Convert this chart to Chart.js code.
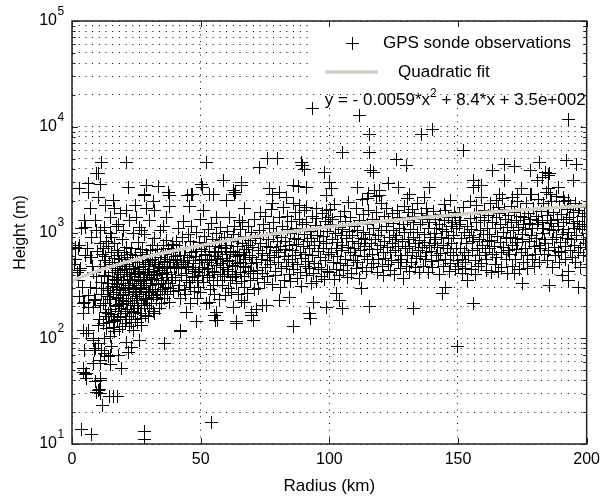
<!DOCTYPE html>
<html>
<head>
<meta charset="utf-8">
<script src="https://cdn.jsdelivr.net/npm/chart.js@4.4.1/dist/chart.umd.min.js"></script>
<style>
  html, body { margin: 0; padding: 0; background: #fff; }
  #chart { display: block; }
</style>
</head>
<body>
<canvas id="chart" width="606" height="499"></canvas>
<script>
// axis ticks
const radiusTicks = [0, 50, 100, 150, 200];
const heightDecades = [10, 100, 1000, 10000, 100000];
const heightExponents = ['1', '2', '3', '4', '5'];
const heightGrid = [10, 20, 30, 40, 50, 60, 70, 80, 90,
  100, 200, 300, 400, 500, 600, 700, 800, 900,
  1000, 2000, 3000, 4000, 5000, 6000, 7000, 8000, 9000,
  10000, 20000, 30000, 40000, 50000, 60000, 70000, 80000, 90000, 100000];

// quadratic fit, every 10 km
const fitRadius = [0, 10, 20, 30, 40, 50, 60, 70, 80, 90, 100, 110, 120, 130, 140, 150, 160, 170, 180, 190, 200];
const fitHeight = [350, 433, 516, 597, 677, 755, 833, 909, 984, 1058, 1131, 1203, 1273, 1342, 1410, 1477, 1543, 1607, 1671, 1733, 1794];

// GPS sonde observations [radius km, height m]
const sondeObs = [
  // 0-20 km, sparse and low
  [3.8,13.6],[7.6,12.2],[4.3,47],[5.6,42],[9.6,31],[9.0,39],[5.0,77],[6.3,119],[4.3,172],[6.3,197],[9.0,228],[6.3,254],[3.1,438],[7.0,585],[9.6,295],
  [3.1,2600],[6.3,2900],[6.4,2400],[9.6,3600],[7.0,1680],[5.0,1300],[9.0,1310],[3.7,1090],[9.6,1040],[2.5,710],
  [11.5,4600],[10.2,3575],[5.2,1120],[10.9,1045],[3.0,753],[1.2,727],[7.6,904],[10.9,785],[5.1,607],[7.7,580],[3.2,454],[8.3,422],[2.5,352],[7.1,305],[8.9,230],
  [5.0,220],[4.4,212],[8.3,197],[10.9,205],[4.4,119],[5.7,111],[8.3,96],[10.2,89],[11.5,77],[8.9,76],[10.9,62],[8.3,58],[4.4,52],[5.8,46],[10.9,40],[10.2,32],
  [10.9,30],[16.0,28],[19.3,52],[14.8,103],[13.5,123],[16.7,147],[15.4,83],[12.2,137],[12.8,72],[14.1,67],[14.8,56],[18.0,69],
  [1.5,560],[2.0,420],[8.0,480],[9.5,380],[4.0,300],[2.8,250],[9.8,660],[6.0,700],[1.0,500],
  [10.2,132],[8.3,100],[12.8,100],[21.2,92],[23.0,82],[21.8,74],[26.4,96],[36.0,89],[42.0,115],[9.0,80],[15.0,69],[4.6,52],[10.9,58],[10.9,42],[5.1,45],
  [11.8,23],[14.6,28],[17.8,28],[10.5,33],[54.2,16],[28.1,13],[28.3,11],
  // 10-40 km core
  [11.2,480],[11.6,262],[10.8,152],[11.4,338],[11.9,618],
  [12.3,705],[12.7,392],[12.1,212],[12.9,176],[12.5,545],[12.2,298],
  [13.4,822],[13.1,452],[13.7,248],[13.3,161],[13.9,332],[13.2,598],
  [14.5,518],[14.1,282],[14.8,188],[14.3,384],[14.6,142],[14.2,732],
  [15.3,642],[15.7,418],[15.1,232],[15.9,308],[15.5,168],[15.2,905],[15.8,498],
  [16.4,362],[16.1,268],[16.8,201],[16.5,562],[16.2,126],[16.9,458],[16.6,782],
  [17.3,302],[17.7,438],[17.1,242],[17.9,181],[17.5,678],[17.2,348],[17.8,152],
  [18.6,522],[18.2,378],[18.9,262],[18.4,208],[18.1,612],[18.7,158],[18.3,292],[18.8,418],
  [19.5,472],[19.1,332],[19.8,228],[19.3,191],[19.6,852],[19.2,558],[19.9,282],
  [20.4,402],[20.8,298],[20.1,252],[20.6,171],[20.3,652],[20.9,502],[20.2,352],[20.7,138],
  [21.5,582],[21.1,442],[21.8,318],[21.3,222],[21.9,268],[21.6,188],[21.2,728],[21.7,382],
  [22.4,482],[22.8,358],[22.1,262],[22.6,212],[22.3,162],[22.9,622],[22.5,302],[22.2,418],
  [23.6,542],[23.2,398],[23.9,292],[23.4,238],[23.1,178],[23.7,332],[23.3,702],[23.8,452],
  [24.5,448],[24.1,352],[24.8,272],[24.3,202],[24.6,602],[24.9,248],[24.2,382],[24.7,152],
  [25.4,522],[25.8,408],[25.1,312],[25.6,228],[25.3,192],[25.9,802],[25.2,278],[25.7,362],
  [26.5,642],[26.1,468],[26.8,342],[26.3,258],[26.9,212],[26.6,378],[26.2,432],[26.7,172],
  [27.4,562],[27.8,418],[27.1,302],[27.6,238],[27.3,698],[27.9,352],[27.2,192],[27.7,482],
  [28.5,502],[28.2,378],[28.8,288],[28.4,232],[28.9,622],[28.1,332],[28.6,448],[28.3,948],
  [29.4,598],[29.8,442],[29.1,348],[29.6,272],[29.3,212],[29.9,518],[29.2,402],[29.7,162],
  [30.5,682],[30.1,478],[30.8,362],[30.3,278],[30.9,232],[30.6,548],[30.2,418],[30.7,312],
  [31.4,558],[31.8,428],[31.1,332],[31.6,252],[31.3,748],[31.9,392],[31.2,288],
  [32.5,618],[32.1,472],[32.8,368],[32.3,292],[32.9,242],[32.6,522],[32.2,878],
  [33.4,698],[33.8,502],[33.1,398],[33.6,322],[33.3,258],[33.9,452],
  [34.5,582],[34.1,438],[34.8,352],[34.3,278],[34.9,638],[34.6,212],
  [35.4,758],[35.8,532],[35.1,412],[35.6,328],[35.3,468],[35.9,262],
  [36.5,618],[36.1,482],[36.8,378],[36.3,302],[36.9,848],[36.6,422],
  [37.4,702],[37.8,518],[37.1,402],[37.6,332],[37.3,558],
  [38.5,642],[38.1,478],[38.8,372],[38.3,298],[38.9,778],
  [39.4,558],[39.8,452],[39.1,348],[39.6,698],[39.3,278],
  [40.5,818],[40.1,598],[40.8,462],[40.3,378],[40.9,518],
  [13.0,215],[14.0,170],[15.0,260],[16.0,145],[17.0,205],[18.0,240],[19.0,160],[20.0,215],[21.0,150],[22.0,240],
  [23.0,140],[24.0,175],[25.0,250],[26.0,190],[27.0,155],[28.0,205],[29.0,240],[30.0,190],[31.0,215],[32.0,170],
  [33.0,230],[34.0,190],[35.0,290],[36.0,240],[37.0,260],[38.0,220],[19.5,130],[22.5,128],[25.5,140],[28.5,165],
  [31.5,180],[16.5,115],[18.5,122],[24.0,118],[27.0,132],[14.5,235],[17.5,320],[20.5,445],[23.5,560],[26.5,295],
  // 10-40 km, upper
  [21.2,4600],[16.0,2000],[28.3,2300],[33.5,2750],[37.4,2400],[16.7,1670],[21.2,1600],[25.1,1390],[29.0,1670],[32.2,1600],
  [10.2,2150],[14.8,1390],[18.0,1200],[22.5,1300],[26.4,1120],[30.3,1300],[34.2,1040],[12.8,1120],[36.8,1390],[20.0,1040],
  [23.8,970],[14.8,970],[38.0,1750],[21.9,2680],[29.0,2770],[38.0,2240],[28.3,2240],[11.0,2850],[13.2,1800],[19.0,1500],
  [24.5,1800],[35.5,1150],[27.0,1050],[31.5,1950],[17.2,1150],
  // 40-70 km, outliers
  [52.3,4600],[50.4,2860],[58.8,3100],[65.9,2990],[62.7,2500],[54.9,2270],[46.5,2270],[60.0,2000],[67.2,1670],[45.8,1750],
  [51.0,1600],[56.2,1390],[65.2,1300],[45.0,2240],[47.0,2300],[53.5,2300],[50.6,2680],[63.0,2300],[63.4,2400],[66.0,2770],
  [42.3,119],[56.2,177],[56.4,148],[64.0,143],[48.4,143],[44.5,177],[53.6,220],[62.7,197],[69.8,165],[67.2,220],
  [55.5,165],[55.7,148],[64.1,138],[69.6,177],[71.6,187],[74.0,205],[80.7,228],[66.0,228],
  // 40-70 km band
  [40.6,760],[41.2,455],[41.8,318],[41.4,1080],[42.1,610],[42.7,388],[42.3,236],[42.9,890],[43.4,520],[43.8,290],
  [43.2,1270],[44.1,700],[44.6,410],[44.3,262],[44.9,545],[45.3,960],[45.7,338],[45.2,470],[45.9,215],[46.4,640],
  [46.1,825],[46.8,372],[46.5,1150],[47.2,508],[47.7,278],[47.4,735],[47.9,432],[48.3,990],[48.6,352],[48.1,590],
  [48.8,240],[49.4,468],[49.7,812],[49.2,305],[49.9,1320],[50.3,560],[50.8,395],[50.5,690],[50.1,268],[51.3,910],
  [51.6,448],[51.1,335],[51.8,625],[52.4,212],[52.2,780],[52.7,520],[52.9,1060],[53.3,372],[53.6,655],[53.1,455],
  [53.9,288],[54.5,865],[54.2,540],[54.8,318],[54.4,1210],[55.2,415],[55.7,745],[55.4,258],[55.9,588],[56.3,980],
  [56.6,348],[56.1,490],[56.9,665],[57.4,230],[57.2,820],[57.7,405],[57.9,1120],[58.3,570],[58.6,312],[58.1,715],
  [58.9,468],[59.4,890],[59.7,252],[59.2,382],[59.9,620],[60.3,1030],[60.6,445],[60.1,760],[60.8,296],[61.4,545],
  [61.2,1380],[61.7,355],[61.9,828],[62.3,488],[62.6,668],[62.1,272],[62.9,950],[63.4,402],[63.7,592],[63.2,1150],
  [63.9,330],[64.5,740],[64.2,505],[64.8,875],[64.6,262],[65.3,420],[65.6,1060],[65.1,612],[65.9,345],[66.4,795],
  [66.7,480],[66.2,1250],[66.9,300],[67.3,560],[67.6,915],[67.1,385],[67.8,690],[68.4,430],[68.7,1130],[68.2,265],
  [68.9,610],[69.4,845],[69.2,350],[69.7,505],[69.9,1010],[70.3,720],[70.6,412],[70.1,580],[70.8,290],
  [40.9,540],[41.6,690],[42.5,495],[43.6,612],[44.4,355],[45.5,585],[46.7,445],[47.5,385],[48.5,660],[49.5,540],
  [50.6,470],[51.5,735],[52.5,395],[53.5,560],[54.7,430],[55.5,650],[56.5,560],[57.6,505],[58.5,402],[59.5,710],
  [60.5,530],[61.5,640],[62.5,375],[63.6,480],[64.4,615],[65.5,520],[66.5,605],[67.5,470],[68.5,760],[69.5,430],
  [41.4,282],[44.0,480],[46.0,300],[49.0,415],[52.0,610],[55.0,350],[58.0,840],[61.0,430],[64.0,385],[67.0,640],
  // 70-100 km, outliers
  [73.0,4130],[76.0,4990],[80.0,4990],[89.2,4600],[90.5,3980],[98.3,3700],[87.9,2750],[91.1,2680],[83.4,2120],[86.0,1880],
  [88.5,1800],[91.1,1730],[95.0,1670],[98.9,1600],[76.9,2600],[80.8,2400],[78.0,1880],[89.4,4270],[100.0,2980],[78.0,2300],
  [86.0,2770],[99.0,2240],[93.6,14800],
  [70.4,148],[86.0,128],[92.4,171],[92.6,155],[75.6,205],[84.7,245],[93.7,220],[99.0,197],
  // 70-100 km band
  [71.3,880],[71.7,520],[71.1,1320],[71.9,365],[72.4,680],[72.8,1050],[72.2,440],[72.6,295],[73.3,790],[73.7,560],
  [73.1,1560],[73.9,410],[74.5,960],[74.2,630],[74.8,338],[74.4,1200],[75.3,470],[75.7,740],[75.2,1420],[75.9,545],
  [76.4,860],[76.1,380],[76.7,1080],[76.9,610],[77.3,495],[77.6,1650],[77.2,720],[77.9,320],[78.4,930],[78.7,575],
  [78.2,1240],[78.9,430],[79.3,680],[79.6,1010],[79.1,390],[79.8,815],[80.4,525],[80.7,1380],[80.2,650],[80.9,302],
  [81.3,900],[81.6,455],[81.1,740],[81.8,1150],[82.4,590],[82.2,1720],[82.7,352],[82.9,820],[83.3,480],[83.6,1060],
  [83.1,690],[83.8,1420],[84.4,405],[84.7,760],[84.2,560],[84.9,985],[85.3,1280],[85.6,520],[85.1,345],[85.8,680],
  [86.4,880],[86.7,1540],[86.2,445],[86.9,610],[87.3,1090],[87.6,370],[87.1,770],[87.8,500],[88.4,1330],[88.7,640],
  [88.2,860],[88.9,420],[89.3,565],[89.6,1180],[89.1,310],[89.8,735],[90.4,960],[90.7,480],[90.2,1620],[90.9,620],
  [91.3,390],[91.6,820],[91.1,1250],[91.8,535],[92.4,700],[92.7,1030],[92.2,455],[92.9,330],[93.3,1420],[93.6,600],
  [93.1,880],[93.8,412],[94.4,760],[94.7,1160],[94.2,505],[94.9,345],[95.3,940],[95.6,660],[95.1,1350],[95.8,470],
  [96.4,580],[96.7,1080],[96.2,825],[96.9,380],[97.3,1500],[97.6,700],[97.1,450],[97.8,920],[98.4,540],[98.7,1260],
  [98.2,360],[98.9,780],[99.3,1020],[99.6,615],[99.1,430],[99.8,1400],
  // 100-200 km, outliers
  [111.7,12700],[193.0,11800],[115.5,8500],[136.0,8500],[140.0,9500],[105.0,5730],[115.6,5730],[126.0,4950],[130.0,4280],[152.0,5940],
  [116.0,3850],[117.2,3700],[163.6,3850],[168.0,4400],[172.0,4250],[181.7,4600],[178.0,3850],[184.0,3700],[185.6,3600],[192.0,4750],
  [196.0,4400],[195.0,3100],[156.0,3100],[158.0,2770],[168.2,3100],[181.0,3100],[183.0,3330],[185.0,3480],
  [101.0,2580],[111.0,2690],[119.6,2500],[119.4,2240],[115.0,2100],[123.0,2880],[127.0,2690],[131.0,2300],[130.4,2100],[139.0,2690],
  [137.0,2140],[147.0,2000],[156.2,2690],[159.0,2770],[166.0,2300],[165.0,2000],[171.0,2140],[173.0,2300],[174.6,2580],[178.0,2300],
  [185.2,2580],[186.0,2300],[189.0,2690],[191.0,2140],[193.0,2000],
  [172.0,407],[175.0,328],[185.6,318],[190.6,392],[193.0,350],[197.0,303],[155.9,212],[132.6,190],[115.7,198],[105.0,190],
  [144.0,263],[145.0,304],[112.5,295],[102.6,263],[104.0,228],[150.0,83],
  // 100-150 km band
  [100.4,1180],[100.8,640],[100.2,420],[100.6,1650],[101.3,860],[101.7,515],[101.1,1320],[101.9,360],[102.4,980],[102.7,705],
  [102.2,1850],[102.9,450],[103.3,590],[103.6,1120],[103.1,800],[103.8,395],[104.4,1420],[104.7,670],[104.2,505],[104.9,930],
  [105.3,1060],[105.6,440],[105.1,760],[105.8,1580],[106.4,560],[106.7,880],[106.2,1260],[106.9,375],[107.3,720],[107.6,1940],
  [107.1,485],[107.8,1020],[108.4,640],[108.7,410],[108.2,1380],[108.9,820],[109.3,540],[109.6,1150],[109.1,935],[109.8,700],
  [110.4,1700],[110.7,455],[110.2,610],[110.9,1040],[111.3,780],[111.6,1290],[111.1,520],[111.8,365],[112.4,880],[112.7,2050],
  [112.2,680],[112.9,470],[113.3,1480],[113.6,590],[113.1,1000],[113.8,745],[114.4,425],[114.7,1190],[114.2,860],[114.9,560],
  [115.3,1620],[115.6,695],[115.1,2350],[115.8,960],[116.4,470],[116.7,1340],[116.2,780],[116.9,620],[117.3,1080],[117.6,2480],
  [117.1,505],[117.8,860],[118.4,1560],[118.7,690],[118.2,2180],[118.9,415],[119.3,940],[119.6,1250],[119.1,560],[119.8,760],
  [120.4,1880],[120.7,480],[120.2,1040],[120.9,650],[121.3,1420],[121.6,820],[121.1,395],[121.8,570],[122.4,1150],[122.7,720],
  [122.2,1680],[122.9,500],[123.3,905],[123.6,440],[123.1,1300],[123.8,640],[124.4,780],[124.7,1520],[124.2,545],[124.9,1040],
  [125.3,405],[125.6,860],[125.1,1210],[125.8,680],[126.4,1620],[126.7,525],[126.2,940],[126.9,730],[127.3,1100],[127.6,460],
  [127.1,1380],[127.8,610],[128.4,820],[128.7,1190],[128.2,550],[128.9,370],[129.3,1760],[129.6,700],[129.1,990],[129.8,480],
  [130.4,1300],[130.7,860],[130.2,605],[130.9,1540],[131.3,430],[131.6,1060],[131.1,740],[131.8,520],[132.4,1650],[132.7,900],
  [132.2,640],[132.9,1230],[133.3,470],[133.6,780],[133.1,1420],[133.8,570],[134.4,1000],[134.7,680],[134.2,1870],[134.9,415],
  [135.3,1180],[135.6,590],[135.1,840],[135.8,1500],[136.4,720],[136.7,480],[136.2,1330],[136.9,960],[137.3,560],[137.6,1690],
  [137.1,800],[137.8,640],[138.4,1100],[138.7,420],[138.2,1440],[138.9,750],[139.3,890],[139.6,530],[139.1,1240],[139.8,660],
  [140.4,1580],[140.7,980],[140.2,470],[140.9,780],[141.3,1320],[141.6,610],[141.1,860],[141.8,1080],[142.4,540],[142.7,1200],
  [142.2,720],[142.9,400],[143.3,1480],[143.6,900],[143.1,630],[143.8,1060],[144.4,480],[144.7,1300],[144.2,760],[144.9,1840],
  [145.3,560],[145.6,1020],[145.1,1620],[145.8,700],[146.4,870],[146.7,430],[146.2,1390],[146.9,640],[147.3,1150],[147.6,780],
  [147.1,510],[147.8,1250],[148.4,600],[148.7,1560],[148.2,930],[148.9,450],[149.3,1100],[149.6,700],[149.1,1380],[149.8,540],
  // 150-200 km band
  [150.4,1180],[150.8,700],[150.2,480],[150.6,1520],[151.3,880],[151.7,560],[151.1,1300],[151.9,410],[152.4,1000],[152.7,640],
  [152.2,1720],[152.9,460],[153.3,780],[153.6,1150],[153.1,520],[153.8,350],[154.4,930],[154.7,1960],[154.2,610],[154.9,1350],
  [155.3,450],[155.6,820],[155.1,1060],[155.8,680],[156.4,1480],[156.7,540],[156.2,900],[156.9,400],[157.3,1230],[157.6,710],
  [157.1,1800],[157.8,480],[158.4,860],[158.7,1040],[158.2,600],[158.9,1400],[159.3,2150],[159.6,750],[159.1,505],[159.8,960],
  [160.4,1300],[160.7,640],[160.2,1620],[160.9,440],[161.3,1080],[161.6,820],[161.1,560],[161.8,1460],[162.4,700],[162.7,1880],
  [162.2,960],[162.9,420],[163.3,1240],[163.6,620],[163.1,840],[163.8,1570],[164.4,500],[164.7,1100],[164.2,740],[164.9,1380],
  [165.3,920],[165.6,1720],[165.1,580],[165.8,430],[166.4,1200],[166.7,800],[166.2,1520],[166.9,640],[167.3,2080],[167.6,1000],
  [167.1,470],[167.8,720],[168.4,1330],[168.7,560],[168.2,1640],[168.9,880],[169.3,1120],[169.6,680],[169.1,410],[169.8,1450],
  [170.4,900],[170.7,1780],[170.2,620],[170.9,1250],[171.3,480],[171.6,1050],[171.1,760],[171.8,1560],[172.4,560],[172.7,1300],
  [172.2,880],[172.9,690],[173.3,1980],[173.6,1120],[173.1,800],[173.8,450],[174.4,1420],[174.7,640],[174.2,1640],[174.9,960],
  [175.3,1200],[175.6,520],[175.1,860],[175.8,1380],[176.4,700],[176.7,1860],[176.2,1060],[176.9,460],[177.3,1500],[177.6,830],
  [177.1,600],[177.8,1220],[178.4,2280],[178.7,940],[178.2,1320],[178.9,560],[179.3,1700],[179.6,740],[179.1,1080],[179.8,480],
  [180.4,1420],[180.7,880],[180.2,620],[180.9,1180],[181.3,2060],[181.6,760],[181.1,1300],[181.8,520],[182.4,1580],[182.7,980],
  [182.2,700],[182.9,1240],[183.3,1880],[183.6,620],[183.1,1100],[183.8,860],[184.4,2380],[184.7,1460],[184.2,780],[184.9,540],
  [185.3,1700],[185.6,1060],[185.1,680],[185.8,1300],[186.4,1980],[186.7,860],[186.2,1220],[186.9,470],[187.3,1560],[187.6,720],
  [187.1,1040],[187.8,600],[188.4,2180],[188.7,1340],[188.2,900],[188.9,660],[189.3,1760],[189.6,520],[189.1,1140],[189.8,800],
  [190.4,1480],[190.7,960],[190.2,640],[190.9,1240],[191.3,1960],[191.6,740],[191.1,1060],[191.8,560],[192.4,1640],[192.7,880],
  [192.2,1320],[192.9,430],[193.3,1380],[193.6,680],[193.1,1000],[193.8,1800],[194.4,580],[194.7,1220],[194.2,860],[194.9,1560],
  [195.3,760],[195.6,1900],[195.1,1080],[195.8,520],[196.4,1280],[196.7,640],[196.2,940],[196.9,1620],[197.3,1140],[197.6,720],
  [197.1,1740],[197.8,470],[198.4,1420],[198.7,860],[198.2,1060],[198.9,600],[199.3,1200],[199.6,780],[199.1,1500]
];

const FONT = '"Liberation Sans", Arial, Helvetica, sans-serif';
Chart.defaults.font.family = FONT;
Chart.defaults.color = '#000';

// crisp 1px "+" marker, 13 px across
const plusMark = document.createElement('canvas');
plusMark.width = 13;
plusMark.height = 13;
const pm = plusMark.getContext('2d');
pm.fillStyle = '#000';
pm.fillRect(0, 6, 13, 1);
pm.fillRect(6, 0, 1, 13);

function seg(ctx, x1, y1, x2, y2) {
  ctx.beginPath(); ctx.moveTo(x1, y1); ctx.lineTo(x2, y2); ctx.stroke();
}

// frame, inward ticks, 10^n labels, legend and the fit equation
const matlabAxes = {
  id: 'matlabAxes',
  beforeDatasetsDraw(chart) { chart.ctx.imageSmoothingEnabled = false; },
  afterDatasetsDraw(chart) { chart.ctx.imageSmoothingEnabled = true; },
  afterDraw(chart) {
    const { ctx, chartArea: a, scales } = chart;
    const xs = scales.x, ys = scales.y;
    ctx.save();

    // legend
    ctx.fillStyle = '#fff';
    ctx.fillRect(312, a.top + 1, a.right - 313, 67);
    ctx.drawImage(plusMark, 346, 37);
    ctx.strokeStyle = '#d4d0c8';
    ctx.lineWidth = 3.5;
    seg(ctx, 325, 72, 378, 72);
    ctx.fillStyle = '#000';
    ctx.textBaseline = 'middle';
    ctx.textAlign = 'left';
    ctx.font = '17px ' + FONT;
    ctx.fillText('GPS sonde observations', 383, 43);
    ctx.fillText('Quadratic fit', 398, 72);

    // equation
    const eq = [['y = - 0.0059*x', 17, 0], ['2', 12, -6], [' + 8.4*x + 3.5e+002', 17, 0]];
    let w = 0;
    eq.forEach(p => { ctx.font = p[1] + 'px ' + FONT; w += ctx.measureText(p[0]).width; });
    let ex = a.right - 1 - w;
    eq.forEach(p => {
      ctx.font = p[1] + 'px ' + FONT;
      ctx.fillText(p[0], ex, 100 + p[2]);
      ex += ctx.measureText(p[0]).width;
    });

    // frame
    ctx.strokeStyle = '#222';
    ctx.lineWidth = 1.5;
    ctx.strokeRect(a.left, a.top, a.right - a.left, a.bottom - a.top);

    // inward ticks
    ctx.lineWidth = 1;
    heightGrid.forEach(v => {
      const py = Math.round(ys.getPixelForValue(v)) + 0.5;
      const len = heightDecades.includes(v) ? 6 : 3.5;
      seg(ctx, a.left, py, a.left + len, py);
      seg(ctx, a.right, py, a.right - len, py);
    });
    radiusTicks.forEach(v => {
      const px = Math.round(xs.getPixelForValue(v)) + 0.5;
      seg(ctx, px, a.bottom, px, a.bottom - 6);
      seg(ctx, px, a.top, px, a.top + 6);
    });

    // y tick labels 10^n
    ctx.fillStyle = '#000';
    heightDecades.forEach((v, i) => {
      const py = ys.getPixelForValue(v);
      ctx.font = '16px ' + FONT;
      ctx.textAlign = 'right';
      ctx.fillText('10', 57, py);
      ctx.font = '12px ' + FONT;
      ctx.textAlign = 'left';
      ctx.fillText(heightExponents[i], 57.5, py - 9.5);
    });
    ctx.restore();
  }
};

// v4 takes the grid-line dash from border.dash
const gridDots = { color: '#000', lineWidth: 1, drawTicks: false };
const dotted = { display: false, dash: [1, 5.7] };

new Chart(document.getElementById('chart').getContext('2d'), {
  type: 'scatter',
  data: {
    datasets: [
      {
        label: 'Quadratic fit',
        data: fitRadius.map((r, i) => ({ x: r, y: fitHeight[i] })),
        showLine: true,
        borderColor: '#d4d0c8',
        borderWidth: 3.5,
        pointRadius: 0,
        cubicInterpolationMode: 'monotone',
        order: 0
      },
      {
        label: 'GPS sonde observations',
        data: sondeObs.map(([r, h]) => ({ x: r, y: h })),
        pointStyle: plusMark,
        pointRadius: 6,
        order: 1
      }
    ]
  },
  options: {
    responsive: false,
    animation: false,
    events: [],
    layout: { padding: { top: 21, right: 19, left: 0, bottom: 0 } },
    plugins: { legend: { display: false }, tooltip: { enabled: false } },
    scales: {
      x: {
        type: 'linear',
        min: 0, max: 200,
        afterBuildTicks: s => { s.ticks = radiusTicks.map(v => ({ value: v })); },
        afterFit: s => { s.height = 55; },
        grid: gridDots,
        border: dotted,
        ticks: { font: { size: 16 }, padding: 6, maxRotation: 0 },
        title: { display: true, text: 'Radius (km)', font: { size: 17 }, padding: { top: 0, bottom: 2 } }
      },
      y: {
        type: 'logarithmic',
        min: 10, max: 100000,
        afterBuildTicks: s => { s.ticks = heightGrid.map(v => ({ value: v, major: heightDecades.includes(v) })); },
        afterFit: s => { s.width = 72; },
        grid: gridDots,
        border: dotted,
        ticks: { display: false },
        title: { display: true, text: 'Height (m)', font: { size: 16 }, padding: { top: 11, bottom: 0 } }
      }
    }
  },
  plugins: [matlabAxes]
});
</script>
</body>
</html>
